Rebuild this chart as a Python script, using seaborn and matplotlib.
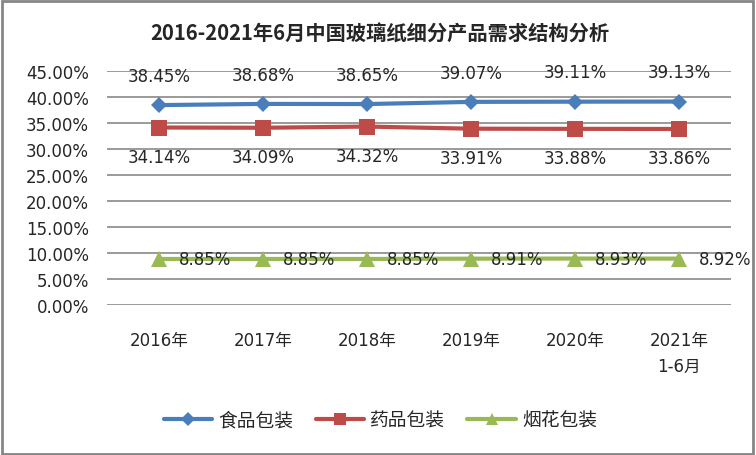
import pandas as pd
import seaborn as sns
import matplotlib.pyplot as plt
from matplotlib.patches import Rectangle

sns.set_style('white')
plt.rcParams['font.family'] = ['DejaVu Sans', 'Noto Sans CJK SC']

# DATA
years = ['2016年', '2017年', '2018年', '2019年', '2020年', '2021年\n1-6月']
food = [38.45, 38.68, 38.65, 39.07, 39.11, 39.13]
medicine = [34.14, 34.09, 34.32, 33.91, 33.88, 33.86]
tobacco = [8.85, 8.85, 8.85, 8.91, 8.93, 8.92]
series_names = ['食品包装', '药品包装', '烟花包装']
colors = ['#4A7EBB', '#BE4B48', '#98B954']
marker_list = ['D', 's', '^']

rows = []
for name, vals in zip(series_names, [food, medicine, tobacco]):
    for i, v in enumerate(vals):
        rows.append({'x': i, 'value': v, 'series': name})
df = pd.DataFrame(rows)

fig = plt.figure(figsize=(7.56, 4.56), dpi=100)
ax = fig.add_axes([0.1415, 0.329, 0.8255, 0.513])

sns.lineplot(data=df, x='x', y='value', hue='series', style='series',
             palette=colors, markers=marker_list, dashes=False,
             linewidth=3, markersize=10, markeredgewidth=0, ax=ax)

# marker sizes differ a bit per series
for line, ms in zip(ax.get_lines()[:3], [8, 11, 11]):
    line.set_markersize(ms)

fs = 12
# data labels
for i, v in enumerate(food):
    ax.annotate('%.2f%%' % v, (i, v), xytext=(0, 21), textcoords='offset points',
                ha='center', va='center', fontsize=fs)
for i, v in enumerate(medicine):
    ax.annotate('%.2f%%' % v, (i, v), xytext=(0, -21), textcoords='offset points',
                ha='center', va='center', fontsize=fs)
for i, v in enumerate(tobacco):
    ax.annotate('%.2f%%' % v, (i, v), xytext=(14, 0), textcoords='offset points',
                ha='left', va='center', fontsize=fs)

ax.set_xlim(-0.5, 5.5)
ax.set_ylim(0, 45)
ax.set_yticks(range(0, 50, 5))
ax.set_yticklabels(['%.2f%%' % t for t in range(0, 50, 5)], fontsize=fs)
ax.set_xticks(range(len(years)))
ax.set_xticklabels(years, fontsize=fs, linespacing=1.55, va='top')
ax.tick_params(axis='x', length=0, pad=19)
ax.tick_params(axis='y', length=0, pad=13)
ax.set_xlabel('')
ax.set_ylabel('')
ax.yaxis.grid(True, color='#7F7F7F', linewidth=1.1)
ax.set_axisbelow(True)
for s in ax.spines.values():
    s.set_visible(False)

leg = ax.legend(loc='center', bbox_to_anchor=(0.503, 0.077), bbox_transform=fig.transFigure,
                ncol=3, frameon=False, fontsize=13.5, handlelength=2.6, columnspacing=1.2,
                handletextpad=0.3)
for h, ms in zip(leg.get_lines(), [7, 9, 9]):
    h.set_markersize(ms)
    h.set_linewidth(3)

fig.text(0.503, 0.926, '2016-2021年6月中国玻璃纸细分产品需求结构分析', ha='center', va='center',
         fontsize=14.6, fontweight='bold', family=['Noto Sans CJK SC', 'DejaVu Sans'])

fig.patches.append(Rectangle((0.002, 0.003), 0.994, 0.993, transform=fig.transFigure,
                             fill=False, edgecolor='#868686', linewidth=2))

fig.savefig('out.png', dpi=100)
